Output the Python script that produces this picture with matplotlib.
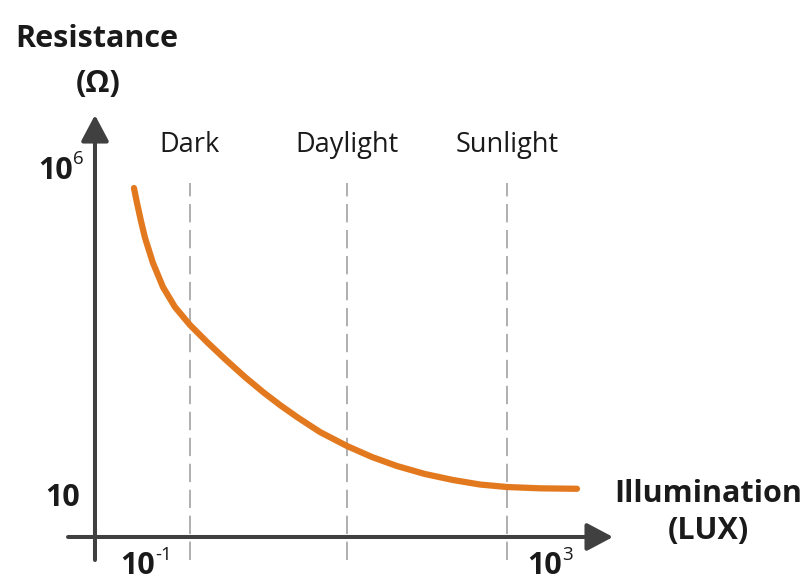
import matplotlib
matplotlib.use("Agg")
import matplotlib.pyplot as plt

# schematic LDR curve, x = log10(lux), y = log10(ohm) in chart units
lux_log = [-1.138, -1.108, -1.069, -1.029, -0.951, -0.853, -0.735, -0.587,
           -0.410, -0.243, -0.047, 0.130, 0.297, 0.464, 0.690, 0.956,
           1.201, 1.447, 1.722, 1.998, 2.263, 2.528, 2.853, 3.216]
res_log = [5.740, 5.511, 5.235, 4.976, 4.593, 4.226, 3.920, 3.645,
           3.370, 3.125, 2.850, 2.621, 2.422, 2.239, 2.009, 1.795,
           1.627, 1.489, 1.367, 1.275, 1.206, 1.168, 1.148, 1.141]

regions = ["Dark", "Daylight", "Sunlight"]
region_x = [-0.59, 0.96, 2.53]

x_ticks = [-1, 3]
x_tick_exp = ["-1", "3"]
y_ticks = [1, 6]
y_tick_exp = ["", "6"]

W, H = 805, 579
FONT = "Open Sans"
AXIS_COL = "#404040"
TXT_COL = "#1a1a1a"
BOLD = 22
NORMAL = 19.5
SUP = 13.5

fig = plt.figure(figsize=(W / 100, H / 100), dpi=100)
ax = fig.add_axes([0, 0, 1, 1])
ax.set_xlim(-2.4545, 5.457)
ax.set_ylim(-0.2385, 8.615)
ax.axis("off")


def fx(px):
    return px / W


def fy(py):
    return 1 - py / H


# axes with arrows
arrow = dict(arrowstyle="-|>,head_length=1.6,head_width=0.85",
             mutation_scale=10, lw=2.9, color=AXIS_COL, shrinkA=0, shrinkB=0)
ax.annotate("", xy=(-1.521, 6.856), xytext=(-1.521, 0.052), arrowprops=arrow)
ax.annotate("", xy=(3.57, 0.404), xytext=(-1.786, 0.404), arrowprops=arrow)

# dashed region markers
for name, xv in zip(regions, region_x):
    ax.plot([xv, xv], [0.052, 5.82], color="#9a9a9a", lw=1.1,
            dashes=(12, 5))
    ax.annotate(name, xy=(xv, 0), xycoords=("data", "figure fraction"),
                xytext=(xv, fy(152)), textcoords=("data", "figure fraction"),
                ha="center", va="baseline", fontsize=NORMAL, family=FONT,
                color=TXT_COL)

ax.plot(lux_log, res_log, color="#E3791F", lw=4.5, solid_capstyle="round")

# tick labels
for xv, e in zip(x_ticks, x_tick_exp):
    ax.annotate("10", xy=(xv, 0), xycoords=("data", "figure fraction"),
                xytext=(5, 3.5), textcoords="offset points", ha="right",
                va="baseline", fontsize=BOLD, fontweight="bold", family=FONT,
                color=TXT_COL, annotation_clip=False)
    ax.annotate(e, xy=(xv, 0), xycoords=("data", "figure fraction"),
                xytext=(5, 14), textcoords="offset points", ha="left",
                va="baseline", fontsize=SUP, family=FONT, color=TXT_COL,
                annotation_clip=False)

for yv, e in zip(y_ticks, y_tick_exp):
    right = -1.668 - (0.07 if e else 0)
    ax.text(right, yv, "10", ha="right", va="center",
            fontsize=BOLD, fontweight="bold", family=FONT, color=TXT_COL)
    if e:
        ax.annotate(e, xy=(right, yv), xytext=(0, 5),
                    textcoords="offset points", ha="left", va="baseline",
                    fontsize=SUP, family=FONT, color=TXT_COL)

# axis titles
fig.text(fx(97), fy(47), "Resistance", ha="center", va="baseline",
         fontsize=BOLD, fontweight="bold", family=FONT, color=TXT_COL)
fig.text(fx(98), fy(92), "(\u03a9)", ha="center", va="baseline",
         fontsize=BOLD, fontweight="bold", family=FONT, color=TXT_COL)
fig.text(fx(708), fy(502), "Illumination", ha="center", va="baseline",
         fontsize=BOLD, fontweight="bold", family=FONT, color=TXT_COL)
fig.text(fx(708), fy(539), "(LUX)", ha="center", va="baseline",
         fontsize=BOLD, fontweight="bold", family=FONT, color=TXT_COL)

fig.savefig("out.png", dpi=100, facecolor="white")
